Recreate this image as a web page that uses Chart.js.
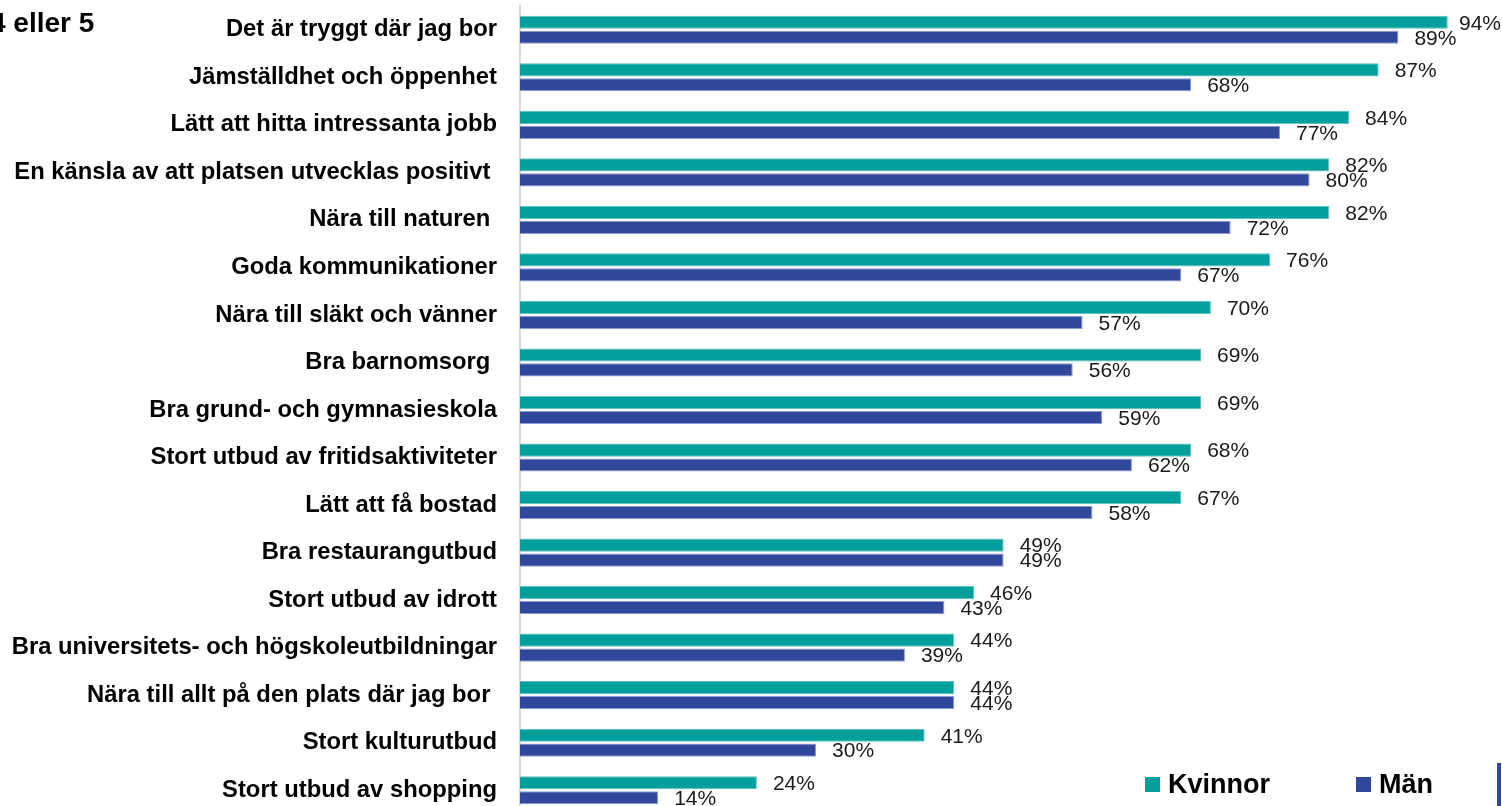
<!DOCTYPE html>
<html>
<head>
<meta charset="utf-8">
<script src="https://cdn.jsdelivr.net/npm/chart.js@4"></script>
<style>
html, body { margin: 0; padding: 0; overflow: hidden; background: #ffffff; }
#wrap { position: absolute; left: 0; top: 0; width: 1508px; height: 814px; }
</style>
</head>
<body>
<div id="wrap"><canvas id="c" width="1508" height="814"></canvas></div>
<script>
// ---- data ----
const titleText = "4 eller 5";
const categories = [
  "Det är tryggt där jag bor",
  "Jämställdhet och öppenhet",
  "Lätt att hitta intressanta jobb",
  "En känsla av att platsen utvecklas positivt ",
  "Nära till naturen ",
  "Goda kommunikationer",
  "Nära till släkt och vänner",
  "Bra barnomsorg ",
  "Bra grund- och gymnasieskola",
  "Stort utbud av fritidsaktiviteter",
  "Lätt att få bostad",
  "Bra restaurangutbud",
  "Stort utbud av idrott",
  "Bra universitets- och högskoleutbildningar",
  "Nära till allt på den plats där jag bor ",
  "Stort kulturutbud",
  "Stort utbud av shopping"
];
const seriesNames = ["Kvinnor", "Män"];
const kvinnor = [94, 87, 84, 82, 82, 76, 70, 69, 69, 68, 67, 49, 46, 44, 44, 41, 24];
const man     = [89, 68, 77, 80, 72, 67, 57, 56, 59, 62, 58, 49, 43, 39, 44, 30, 14];

// ---- styles ----
const TEAL = '#009f9b';
const BLUE = '#31479c';
const FONT = "Arial, 'Liberation Sans', sans-serif";

const valueLabels = {
  id: 'valueLabels',
  afterDatasetsDraw(chart) {
    const ctx = chart.ctx;
    ctx.save();
    ctx.font = '21px ' + FONT;
    ctx.fillStyle = '#1a1a1a';
    ctx.textBaseline = 'middle';
    ctx.textAlign = 'left';
    chart.data.datasets.forEach((ds, di) => {
      const meta = chart.getDatasetMeta(di);
      meta.data.forEach((bar, i) => {
        const txt = ds.data[i] + '%';
        const w = ctx.measureText(txt).width;
        let x = bar.x + 16;
        if (x + w > 1501) x = 1501 - w;
        ctx.fillText(txt, x, bar.y + 1.5);
      });
    });
    ctx.restore();
  }
};

const extras = {
  id: 'extras',
  afterDraw(chart) {
    const ctx = chart.ctx;
    ctx.save();
    // title (partially cut at left edge)
    ctx.font = 'bold 28px ' + FONT;
    ctx.fillStyle = '#000';
    ctx.textBaseline = 'middle';
    ctx.textAlign = 'left';
    ctx.fillText(titleText, -10, 24);
    // legend
    ctx.font = 'bold 27px ' + FONT;
    const items = [
      { x: 1145, ds: chart.data.datasets[0] },
      { x: 1356, ds: chart.data.datasets[1] }
    ];
    items.forEach(it => {
      ctx.fillStyle = it.ds.backgroundColor;
      ctx.fillRect(it.x, 777, 15, 15);
      ctx.fillStyle = '#000';
      ctx.fillText(it.ds.label, it.x + 23, 786);
    });
    // partial element at far right edge
    ctx.fillStyle = BLUE;
    ctx.fillRect(1497, 763, 4, 43);
    ctx.restore();
  }
};

new Chart(document.getElementById('c'), {
  type: 'bar',
  data: {
    labels: categories,
    datasets: [
      { label: seriesNames[0], data: kvinnor, backgroundColor: TEAL, borderColor: '#5fc2be', borderWidth: 1, borderSkipped: 'start' },
      { label: seriesNames[1], data: man, backgroundColor: BLUE, borderColor: '#8f9ad0', borderWidth: 1, borderSkipped: 'start' }
    ]
  },
  options: {
    indexAxis: 'y',
    responsive: false,
    animation: false,
    devicePixelRatio: 1,
    layout: { padding: { left: 0, top: 6, right: 1, bottom: 0 } },
    categoryPercentage: 0.63,
    barPercentage: 0.88,
    plugins: {
      legend: { display: false },
      tooltip: { enabled: false },
      title: { display: false }
    },
    scales: {
      x: {
        display: false,
        min: 0,
        max: 100
      },
      y: {
        afterFit(scale) {
          scale.width = 520;
          scale.paddingTop = 0;
          scale.paddingBottom = 0;
        },
        grid: { display: false, drawTicks: false },
        border: { display: true, color: '#d9d9d9', width: 2 },
        ticks: {
          padding: 23,
          color: '#000',
          font: { family: FONT, size: 23.8, weight: 'bold' },
          autoSkip: false
        }
      }
    }
  },
  plugins: [valueLabels, extras]
});
</script>
</body>
</html>
